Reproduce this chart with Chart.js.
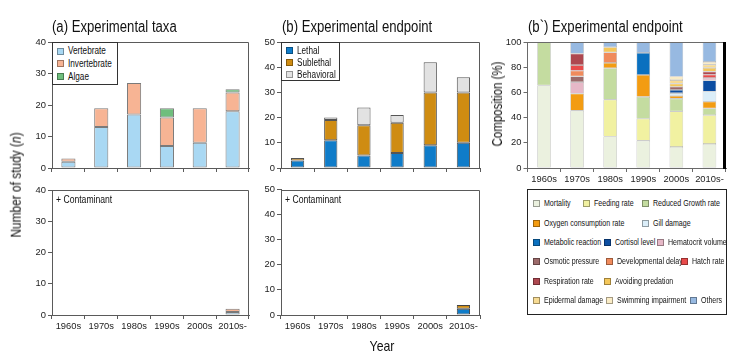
<!DOCTYPE html>
<html><head><meta charset="utf-8">
<script src="https://cdn.jsdelivr.net/npm/chart.js@4.4.1/dist/chart.umd.min.js"></script>
<style>
html,body{margin:0;padding:0;background:#fff;}
#wrap{position:relative;width:737px;height:356px;overflow:hidden;background:#fff;}
canvas{position:absolute;}
.t{position:absolute;white-space:nowrap;color:#111;line-height:1;}
.lg{position:absolute;background:#fff;box-sizing:border-box;}
.sw{position:absolute;width:7px;height:7px;box-sizing:border-box;border:1px solid rgba(0,0,0,0.35);}
</style></head><body><div id="wrap"></div>
<script>
// ---------------- DATA ----------------
const decades = ['1960s','1970s','1980s','1990s','2000s','2010s-'];

// (a) Experimental taxa – number of studies
const taxaVertebrate   = [2, 13, 17, 7, 8, 18];
const taxaInvertebrate = [1, 6, 10, 9, 11, 6];
const taxaAlgae        = [0, 0, 0, 3, 0, 1];
// (a) + Contaminant
const contTaxaVertebrate   = [0, 0, 0, 0, 0, 1];
const contTaxaInvertebrate = [0, 0, 0, 0, 0, 1];
const contTaxaAlgae        = [0, 0, 0, 0, 0, 0];

// (b) Experimental endpoint – number of studies
const endLethal     = [3, 11, 5, 6, 9, 10];
const endSublethal  = [1, 8, 12, 12, 21, 20];
const endBehavioral = [0, 1, 7, 3, 12, 6];
// (b) + Contaminant
const contEndLethal     = [0, 0, 0, 0, 0, 2.5];
const contEndSublethal  = [0, 0, 0, 0, 0, 1.5];
const contEndBehavioral = [0, 0, 0, 0, 0, 0];

// (b`) composition (%) per endpoint
const endpointNames = ['Mortality','Feeding rate','Reduced Growth rate','Oxygen consumption rate','Gill damage',
  'Metabolic reaction','Cortisol level','Hematocrit volume','Osmotic pressure','Developmental delay','Hatch rate',
  'Respiration rate','Avoiding predation','Epidermal damage','Swimming impairment','Others'];
const pctMortality     = [65.5, 45.5, 25.0, 21.7, 16.7, 19.1];
const pctFeeding       = [0, 0, 29.2, 17.4, 28.3, 22.8];
const pctGrowth        = [34.5, 0, 25.0, 17.4, 10.0, 5.4];
const pctOxygen        = [0, 13.6, 4.2, 17.4, 2.3, 5.3];
const pctGill          = [0, 0, 0, 0, 2.2, 8.1];
const pctMetabolic     = [0, 0, 0, 17.4, 0, 0];
const pctCortisol      = [0, 0, 0, 0, 2.5, 8.8];
const pctHematocrit    = [0, 9.1, 0, 0, 0, 2.0];
const pctOsmotic       = [0, 4.5, 0, 0, 2.5, 0];
const pctDevDelay      = [0, 4.5, 8.3, 0, 0, 0];
const pctHatch         = [0, 4.5, 0, 0, 0, 2.5];
const pctRespiration   = [0, 9.1, 0, 0, 0, 2.5];
const pctAvoiding      = [0, 0, 4.2, 0, 2.5, 3.0];
const pctEpidermal     = [0, 0, 0, 0, 2.8, 2.5];
const pctSwimming      = [0, 0, 0, 0, 2.8, 2.2];
const pctOthers        = [0, 9.1, 4.2, 8.7, 27.4, 15.8];
const compositionSeries = [pctMortality,pctFeeding,pctGrowth,pctOxygen,pctGill,pctMetabolic,pctCortisol,
  pctHematocrit,pctOsmotic,pctDevDelay,pctHatch,pctRespiration,pctAvoiding,pctEpidermal,pctSwimming,pctOthers];

// ---------------- STYLE ----------------
const taxaColors = ['#a9d8f3','#f7b494','#6fbe7d'];
const endColors  = ['#0f7cc9','#cf8c12','#e2e2e2'];
const compColors = ['#ebf1df','#f1f1a1','#c4dca0','#f39c12','#dbeef9','#0a70bf','#0c4ea2','#e6b8c7',
  '#9c6a6a','#f08b5c','#e84b4b','#ae4850','#f4c75a','#f7db93','#faecc6','#97b9e1'];
const compSlots = [[533,203],[583,203],[642,203],[533,223],[642,223],[533,242],[604,242],[657,242],
  [533,261],[606,261],[681,261],[533,281],[604,281],[533,300],[606,300],[690,300]];

const wrap = document.getElementById('wrap');
function hasFont(name){
  const c = document.createElement('canvas').getContext('2d');
  const s = 'abcdefghijklmnopqrstuvwxyz0123456789';
  c.font = '40px monospace'; const a = c.measureText(s).width;
  c.font = '40px "'+name+'", monospace'; const b = c.measureText(s).width;
  return Math.abs(a-b) > 0.5;
}
const NARROW = hasFont('Liberation Sans Narrow');
const FAM = NARROW ? '"Liberation Sans Narrow", "Liberation Sans", Arial, sans-serif' : '"Liberation Sans", Arial, sans-serif';
const SX = NARROW ? 1 : 0.82;          // horizontal condensing for HTML text
const tickSize = NARROW ? 11 : 9.4;    // canvas tick font

function text(str, x, y, size, opts={}){
  const d = document.createElement('div');
  d.className = 't';
  d.innerHTML = str;
  d.style.fontFamily = FAM; d.style.fontSize = size+'px';
  d.style.left = x+'px'; d.style.top = y+'px';
  if (opts.center){
    d.style.transformOrigin = '0 0';
    let tr = 'translate(-50%,-50%)';
    d.style.transformOrigin = '50% 50%';
    if (opts.rotate) tr += ' rotate('+opts.rotate+'deg)';
    tr += ' scaleX('+SX+')';
    d.style.transform = tr;
  } else {
    d.style.transformOrigin = '0 50%';
    d.style.transform = 'translate(0,-50%) scaleX('+SX+')';
  }
  wrap.appendChild(d);
}

function legendBox(x, y, w, h, border, names, colors, slots, size){
  const b = document.createElement('div');
  b.className = 'lg';
  Object.assign(b.style, {left:x+'px', top:y+'px', width:w+'px', height:h+'px', border:border});
  wrap.appendChild(b);
  names.forEach((n,i)=>{
    const [sx, sy] = slots[i];
    const s = document.createElement('div');
    s.className = 'sw';
    Object.assign(s.style, {left:sx+'px', top:(sy-3.5)+'px', background:colors[i]});
    wrap.appendChild(s);
    text(n, sx+10.5, sy, size);
  });
}

function barPanel(p){
  const c = document.createElement('canvas');
  Object.assign(c.style, {left:p.box.x+'px', top:p.box.y+'px', width:p.box.w+'px', height:p.box.h+'px'});
  c.width = p.box.w; c.height = p.box.h;
  wrap.appendChild(c);
  const yW = p.area.l - p.box.x;
  const xH = p.box.y + p.box.h - p.area.b;
  const tickFont = {family:FAM, size:tickSize};
  const fc = p.frameColor;
  new Chart(c, {
    type:'bar',
    data:{labels:decades, datasets:p.series.map((d,i)=>({
      data:d.map(v=>v||null), backgroundColor:p.colors[i], borderColor:p.border, borderWidth:p.bw,
      borderSkipped:false, barPercentage:p.barPct, categoryPercentage:1}))},
    options:{
      responsive:false, animation:false, devicePixelRatio:1, events:[],
      layout:{padding:{left:0, top:p.area.t-p.box.y, right:p.box.x+p.box.w-p.area.r, bottom:0}},
      plugins:{legend:{display:false}, tooltip:{enabled:false}},
      scales:{
        x:{stacked:true,
           grid:{offset:true, drawOnChartArea:false, tickLength:4, color:fc},
           border:{color:fc, width:1},
           ticks:{display:p.showX, font:tickFont, color:'#222', padding:2, maxRotation:0, autoSkip:false},
           afterFit:s=>{s.height = xH;}},
        y:{stacked:true, min:0, max:p.ymax,
           ticks:{stepSize:p.step, font:tickFont, color:'#222', padding:2},
           grid:{drawOnChartArea:false, tickLength:4, color:fc},
           border:{color:fc, width:1},
           afterFit:s=>{s.width = yW;}}
      }
    },
    plugins:[{id:'frame', afterDraw(ch){
      const {ctx, chartArea:a} = ch;
      ctx.save();
      ctx.strokeStyle = fc; ctx.lineWidth = 1;
      ctx.beginPath();
      ctx.moveTo(a.left, Math.round(a.top)+0.5);
      ctx.lineTo(Math.round(a.right)-0.5, Math.round(a.top)+0.5);
      ctx.lineTo(Math.round(a.right)-0.5, a.bottom);
      ctx.stroke();
      if (p.thickRight){
        ctx.strokeStyle = '#000'; ctx.lineWidth = 3;
        ctx.beginPath(); ctx.moveTo(a.right-1.5, a.top); ctx.lineTo(a.right-1.5, a.bottom+1); ctx.stroke();
      }
      ctx.restore();
    }}]
  });
}

// (a) top
barPanel({box:{x:0,y:30,w:260,h:150}, area:{l:52,t:42,r:249,b:168}, series:[taxaVertebrate,taxaInvertebrate,taxaAlgae],
  colors:taxaColors, border:'#7a7a7a', bw:1, barPct:0.43, ymax:40, step:10, showX:false, frameColor:'#5a5a5a'});
// (a) bottom
barPanel({box:{x:0,y:180,w:260,h:176}, area:{l:52,t:190,r:249,b:315}, series:[contTaxaVertebrate,contTaxaInvertebrate,contTaxaAlgae],
  colors:taxaColors, border:'#7a7a7a', bw:1, barPct:0.43, ymax:40, step:10, showX:true, frameColor:'#5a5a5a'});
// (b) top
barPanel({box:{x:250,y:30,w:240,h:150}, area:{l:281,t:42,r:480,b:168}, series:[endLethal,endSublethal,endBehavioral],
  colors:endColors, border:'#555', bw:1, barPct:0.4, ymax:50, step:10, showX:false, frameColor:'#5a5a5a'});
// (b) bottom
barPanel({box:{x:250,y:180,w:240,h:176}, area:{l:281,t:189.5,r:480,b:315}, series:[contEndLethal,contEndSublethal,contEndBehavioral],
  colors:endColors, border:'#444', bw:1, barPct:0.4, ymax:50, step:10, showX:true, frameColor:'#5a5a5a'});
// (b`) composition
barPanel({box:{x:495,y:30,w:242,h:170}, area:{l:527.5,t:42,r:726,b:168}, series:compositionSeries,
  colors:compColors, border:'rgba(110,110,110,0.55)', bw:0.6, barPct:0.41, ymax:100, step:20, showX:true,
  frameColor:'#6a6a6a', thickRight:true});

// titles & axis titles
text('(a) Experimental taxa', 52, 27, 16);
text('(b) Experimental endpoint', 282, 27, 16);
text('(b`) Experimental endpoint', 528, 27, 16);
text('+ Contaminant', 56, 199, 10.5);
text('+ Contaminant', 285, 199, 10.5);
text('Number of study (<i>n</i>)', 16, 185, 14.5, {center:true, rotate:-90});
text('Composition (%)', 497, 104, 14, {center:true, rotate:-90});
text('Year', 381.5, 345, 15, {center:true});

// legends
legendBox(52, 42, 66, 43, '1px solid #333', ['Vertebrate','Invertebrate','Algae'], taxaColors,
  [[57,51],[57,63.5],[57,76.5]], 10);
legendBox(281, 42, 59, 39, '1px solid #333', ['Lethal','Sublethal','Behavioral'], endColors,
  [[286,50.5],[286,62.5],[286,74.5]], 10);
legendBox(527, 189, 200, 126, '1px solid #222', endpointNames, compColors, compSlots, 8.6);
</script></body></html>
